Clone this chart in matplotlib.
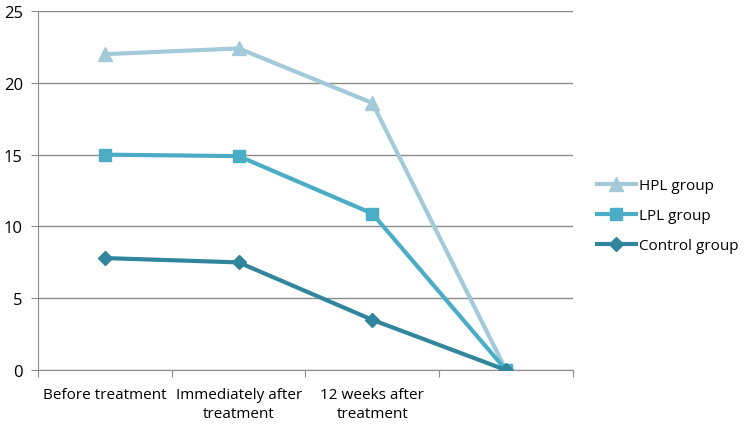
import matplotlib.pyplot as plt
import numpy as np

plt.rcParams['font.family'] = ['Open Sans', 'DejaVu Sans']

# Data
categories = ["Before treatment", "Immediately after\ntreatment", "12 weeks after\ntreatment", ""]
hpl = [22.0, 22.4, 18.6, 0]
lpl = [15.0, 14.9, 10.9, 0]
control = [7.8, 7.5, 3.5, 0]

x = np.arange(len(categories))

fig = plt.figure(figsize=(7.46, 4.31), dpi=100)
ax = fig.add_axes([0.051, 0.139, 0.717, 0.833])

ax.plot(x, hpl, color="#A3CAD8", lw=3, marker="^", ms=10, label="HPL group", zorder=3)
ax.plot(x, lpl, color="#4BACC6", lw=3, marker="s", ms=9, label="LPL group", zorder=3)
ax.plot(x, control, color="#31859C", lw=3, marker="D", ms=7, label="Control group", zorder=3)

ax.set_xlim(-0.5, 3.5)
ax.set_ylim(0, 25)
ax.set_yticks(range(0, 26, 5))
ax.yaxis.grid(True, color="#8C8C8C", lw=1)
ax.set_axisbelow(True)

# category boundaries as ticks, labels in between
ax.set_xticks(np.arange(-0.5, 4, 1))
ax.set_xticklabels([])
ax.set_xticks(x, minor=True)
ax.set_xticklabels(categories, minor=True, fontsize=11, linespacing=1.35)
ax.tick_params(axis="x", which="minor", length=0, pad=12)
ax.tick_params(axis="x", which="major", length=5, color="#8C8C8C")
ax.tick_params(axis="y", length=5, color="#8C8C8C", labelsize=12, pad=6)

for s in ["top", "right"]:
    ax.spines[s].set_visible(False)
for s in ["left", "bottom"]:
    ax.spines[s].set_color("#8C8C8C")

ax.legend(loc="center left", bbox_to_anchor=(1.02, 0.43), frameon=False,
          fontsize=11, handlelength=2.5, labelspacing=1.0, handletextpad=0.2)

fig.savefig("out.png", dpi=100)
